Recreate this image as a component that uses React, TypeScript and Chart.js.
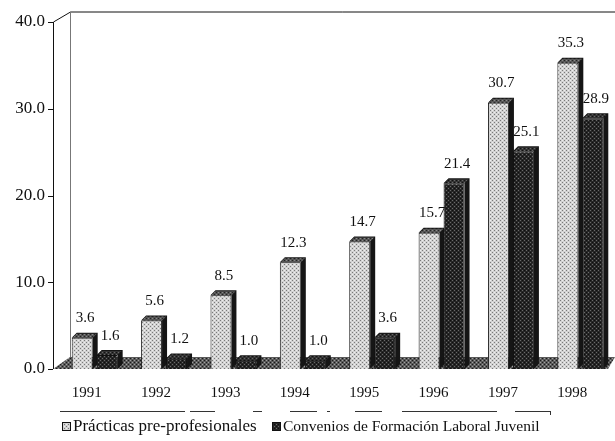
import React, { useEffect, useRef } from "react";
import { Chart, registerables } from "chart.js";

Chart.register(...registerables);

const years = ["1991", "1992", "1993", "1994", "1995", "1996", "1997", "1998"];
const practicas = [3.6, 5.6, 8.5, 12.3, 14.7, 15.7, 30.7, 35.3];
const convenios = [1.6, 1.2, 1.0, 1.0, 3.6, 21.4, 25.1, 28.9];
const seriesNames = ["Prácticas pre-profesionales", "Convenios de Formación Laboral Juvenil"];
const yTicks = [0, 10, 20, 30, 40];

const SERIF = "'Liberation Serif', 'DejaVu Serif', serif";

function makePattern(base: string, dot: string, dot2: string): CanvasPattern | string {
  const c = document.createElement("canvas");
  c.width = 4;
  c.height = 4;
  const g = c.getContext("2d");
  if (!g) return base;
  g.fillStyle = base;
  g.fillRect(0, 0, 4, 4);
  g.fillStyle = dot;
  g.fillRect(0, 0, 1, 1);
  g.fillRect(2, 2, 1, 1);
  g.fillStyle = dot2;
  g.fillRect(2, 0, 1, 1);
  g.fillRect(0, 2, 1, 1);
  const p = g.createPattern(c, "repeat");
  return p || base;
}

const DEPTH = 5;

const decor = {
  id: "decor",
  beforeDatasetsDraw(chart: any) {
    const ctx = chart.ctx as CanvasRenderingContext2D;
    const area = chart.chartArea;
    const axisX = 53;
    const wallX = 70;
    const bottom = area.bottom;
    const top = area.top;
    ctx.save();
    // floor
    ctx.fillStyle = makePattern("#5a5a5a", "#1a1a1a", "#a0a0a0");
    ctx.beginPath();
    ctx.moveTo(axisX, bottom);
    ctx.lineTo(wallX, bottom - 12);
    ctx.lineTo(615, bottom - 12);
    ctx.lineTo(608, bottom);
    ctx.closePath();
    ctx.fill();
    // walls
    ctx.strokeStyle = "#111";
    ctx.lineWidth = 1;
    ctx.beginPath();
    ctx.moveTo(axisX + 0.5, top);
    ctx.lineTo(wallX + 0.5, top - 10);
    ctx.lineTo(615, top - 10);
    ctx.stroke();
    ctx.strokeStyle = "#777";
    ctx.beginPath();
    ctx.moveTo(wallX + 0.5, top - 10);
    ctx.lineTo(wallX + 0.5, bottom - 12);
    ctx.stroke();
    // y axis line and ticks
    ctx.strokeStyle = "#111";
    ctx.beginPath();
    ctx.moveTo(axisX + 0.5, top);
    ctx.lineTo(axisX + 0.5, bottom);
    const ys = chart.scales.y;
    yTicks.forEach((v) => {
      const py = Math.round(ys.getPixelForValue(v)) + 0.5;
      ctx.moveTo(axisX - 5, py);
      ctx.lineTo(axisX, py);
    });
    ctx.stroke();
    // 3D tops and sides of bars
    chart.data.datasets.forEach((ds: any, di: number) => {
      const meta = chart.getDatasetMeta(di);
      meta.data.forEach((bar: any) => {
        const w = bar.width;
        const l = bar.x - w / 2;
        const r = bar.x + w / 2;
        const t = bar.y;
        const b = bar.base;
        ctx.fillStyle = "#151515";
        ctx.beginPath();
        ctx.moveTo(l, t);
        ctx.lineTo(l + DEPTH, t - DEPTH);
        ctx.lineTo(r + DEPTH, t - DEPTH);
        ctx.lineTo(r + DEPTH, b - DEPTH);
        ctx.lineTo(r, b);
        ctx.lineTo(r, t);
        ctx.closePath();
        ctx.fill();
        ctx.fillStyle = di === 0 ? makePattern("#555", "#222", "#888") : makePattern("#333", "#111", "#666");
        ctx.beginPath();
        ctx.moveTo(l + 1, t);
        ctx.lineTo(l + DEPTH, t - DEPTH + 1);
        ctx.lineTo(r + DEPTH - 1, t - DEPTH + 1);
        ctx.lineTo(r, t);
        ctx.closePath();
        ctx.fill();
      });
    });
    ctx.restore();
  },
  afterDatasetsDraw(chart: any) {
    const ctx = chart.ctx as CanvasRenderingContext2D;
    ctx.save();
    ctx.font = "15px " + SERIF;
    ctx.fillStyle = "#111";
    ctx.textAlign = "center";
    ctx.textBaseline = "bottom";
    chart.data.datasets.forEach((ds: any, di: number) => {
      const meta = chart.getDatasetMeta(di);
      meta.data.forEach((bar: any, i: number) => {
        const v = ds.data[i] as number;
        ctx.fillText(v.toFixed(1), bar.x + 3, bar.y - DEPTH - 7);
      });
    });
    // legend frame remnants
    ctx.strokeStyle = "#333";
    ctx.lineWidth = 1;
    const segs = [[60, 185], [190, 215], [253, 262], [290, 317], [327, 330], [355, 382], [402, 497], [515, 550]];
    ctx.beginPath();
    segs.forEach(([a, b]) => {
      ctx.moveTo(a, 411.5);
      ctx.lineTo(b, 411.5);
    });
    ctx.moveTo(550.5, 411);
    ctx.lineTo(550.5, 415);
    ctx.stroke();
    // legend
    const fills = [chart.data.datasets[0].backgroundColor, chart.data.datasets[1].backgroundColor];
    const boxX = [62, 272];
    const sizes = [17, 15.5];
    ctx.textAlign = "left";
    ctx.textBaseline = "middle";
    const ly = 427;
    seriesNames.forEach((name, i) => {
      ctx.fillStyle = fills[i];
      ctx.fillRect(boxX[i], ly - 5, 9, 9);
      ctx.strokeStyle = "#111";
      ctx.strokeRect(boxX[i] + 0.5, ly - 4.5, 8, 8);
      ctx.fillStyle = "#111";
      ctx.font = sizes[i] + "px " + SERIF;
      ctx.fillText(name, boxX[i] + 11, ly);
    });
    ctx.restore();
  },
};

export default function App() {
  const ref = useRef<HTMLCanvasElement | null>(null);
  useEffect(() => {
    if (!ref.current) return;
    const light = makePattern("#d2d2d2", "#7a7a7a", "#eeeeee");
    const dark = makePattern("#262626", "#6a6a6a", "#0e0e0e");
    const chart = new Chart(ref.current, {
      type: "bar",
      data: {
        labels: years,
        datasets: [
          {
            label: seriesNames[0],
            data: practicas,
            backgroundColor: light as any,
            borderColor: "#222",
            borderWidth: 1,
            categoryPercentage: 0.72,
            barPercentage: 0.84,
          },
          {
            label: seriesNames[1],
            data: convenios,
            backgroundColor: dark as any,
            borderColor: "#111",
            borderWidth: 1,
            categoryPercentage: 0.72,
            barPercentage: 0.84,
          },
        ],
      },
      options: {
        animation: false,
        responsive: false,
        devicePixelRatio: 1,
        layout: { padding: { top: 22, right: 0, left: 0, bottom: 32 } },
        plugins: {
          legend: { display: false },
          tooltip: { enabled: false },
        },
        scales: {
          x: {
            grid: { display: false },
            border: { display: false },
            ticks: {
              font: { family: SERIF, size: 15 },
              color: "#111",
              padding: 7,
              labelOffset: -8,
            },
          },
          y: {
            min: 0,
            max: 40,
            grid: { display: false },
            border: { display: false },
            afterFit: (s: any) => {
              s.width = 60;
            },
            afterBuildTicks: (s: any) => {
              s.ticks = yTicks.map((v) => ({ value: v }));
            },
            ticks: {
              font: { family: SERIF, size: 17 },
              color: "#111",
              padding: 7,
              callback: (v: any) => Number(v).toFixed(1),
            },
          },
        },
      },
      plugins: [decor],
    });
    return () => chart.destroy();
  }, []);
  return (
    <div style={{ position: "fixed", left: 0, top: 0, width: 615, height: 441, background: "#fff" }}>
      <canvas ref={ref} width={615} height={441} style={{ width: 615, height: 441, display: "block" }} />
    </div>
  );
}
